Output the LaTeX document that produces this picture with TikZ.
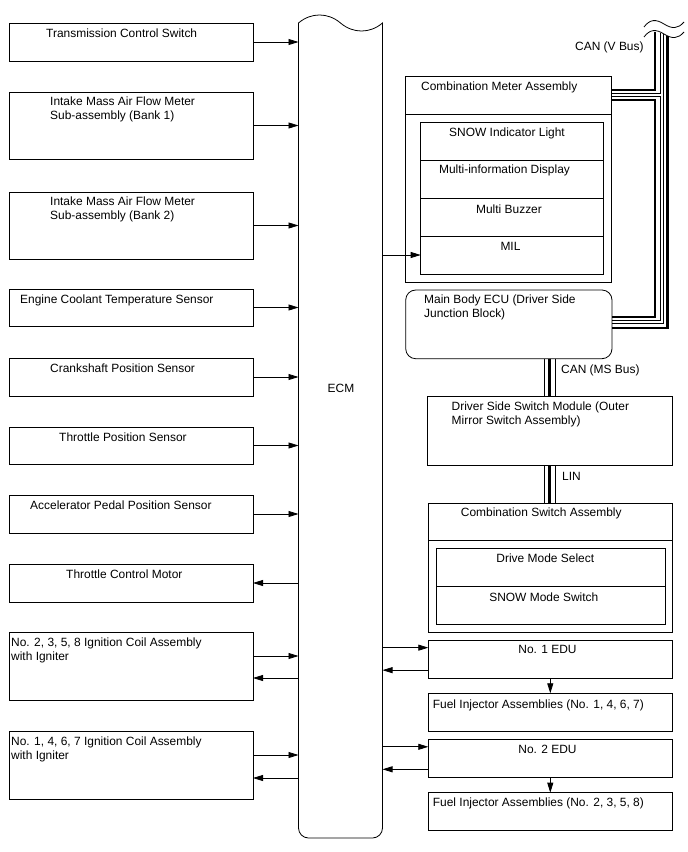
\documentclass[tikz,border=0pt]{standalone}
\usepackage{fontspec}
\setmainfont{Liberation Sans}
\usetikzlibrary{arrows.meta,calc}
\begin{document}
\begin{tikzpicture}[x=1pt,y=-1pt,
  font=\fontsize{11.95}{14}\selectfont,
  bx/.style n args={2}{draw, line width=0.8pt, inner sep=0, outer sep=0, anchor=north west, minimum width=#1pt, minimum height=#2pt},
  ln/.style={line width=0.8pt},
  arr/.style={line width=0.8pt, -{Triangle[length=10pt,width=6pt]}},
  thk/.style={line width=2.6pt},
  thn/.style={line width=0.9pt},
  tl/.style={anchor=base west, inner sep=0},
  tc/.style={anchor=base, inner sep=0}]
\useasboundingbox (0,0) rectangle (688,852);

% left boxes
\node[bx={244}{38}] (b1) at (9,23) {};
\node[bx={244}{67}] (b2) at (9,92) {};
\node[bx={244}{67}] (b3) at (9,192) {};
\node[bx={244}{37}] (b4) at (9,289) {};
\node[bx={244}{38}] (b5) at (9,358) {};
\node[bx={244}{37}] (b6) at (9,427) {};
\node[bx={244}{38}] (b7) at (9,495) {};
\node[bx={244}{38}] (b8) at (9,564) {};
\node[bx={244}{68}] (b9) at (9,632) {};
\node[bx={244}{68}] (b10) at (9,731) {};

\node[tl] (t1) at (46,37) {Transmission Control Switch};
\node[tl] (t2a) at (50,105.5) {Intake Mass Air Flow Meter};
\node[tl] (t2b) at (50,119.5) {Sub-assembly (Bank 1)};
\node[tl] (t3a) at (50,205.5) {Intake Mass Air Flow Meter};
\node[tl] (t3b) at (50,219.5) {Sub-assembly (Bank 2)};
\node[tl] (t4) at (20,303) {Engine Coolant Temperature Sensor};
\node[tl] (t5) at (50,372) {Crankshaft Position Sensor};
\node[tl] (t6) at (59,441) {Throttle Position Sensor};
\node[tl] (t7) at (30,509) {Accelerator Pedal Position Sensor};
\node[tl] (t8) at (66,578) {Throttle Control Motor};
\node[tl] (t9a) at (11,646) {No. 2, 3, 5, 8 Ignition Coil Assembly};
\node[tl] (t9b) at (11,660) {with Igniter};
\node[tl] (t10a) at (11,745) {No. 1, 4, 6, 7 Ignition Coil Assembly};
\node[tl] (t10b) at (11,759) {with Igniter};

% ECM
\node[inner sep=0, outer sep=0, anchor=north west, minimum width=84pt, minimum height=815pt] (ecm) at (298.5,23) {};
\draw[ln] (298.5,23) .. controls (311,12.3) and (328,12.3) .. (340.5,23)
  .. controls (353,33.7) and (370,33.7) .. (382.5,23)
  -- (382.5,828) .. controls (382.5,833.5) and (378,838) .. (372.5,838)
  -- (308.5,838) .. controls (303,838) and (298.5,833.5) .. (298.5,828) -- cycle;
\node[tc] (ecmt) at (341,392) {ECM};

% Combination meter
\node[bx={205.5}{206.5}] (cm) at (405.5,76) {};
\draw[ln] ([yshift=-38.3pt]cm.north west) -- ([yshift=-38.3pt]cm.north east);
\node[bx={182.6}{38}] (r1) at (420.7,122) {};
\node[bx={182.6}{38}] (r2) at (420.7,160) {};
\node[bx={182.6}{38}] (r3) at (420.7,198) {};
\node[bx={182.6}{38}] (r4) at (420.7,236) {};
\node[tl] (tcm) at (421,90) {Combination Meter Assembly};
\node[tc] (tr1) at (507,136.5) {SNOW Indicator Light};
\node[tc] (tr2) at (504.5,173.5) {Multi-information Display};
\node[tc] (tr3) at (509,213) {Multi Buzzer};
\node[tc] (tr4) at (510.5,250) {MIL};

% Main body ECU
\node[bx={206.3}{68.7}, rounded corners=10pt] (ecu) at (405.7,290) {};
\node[tl] (tecua) at (424,303.5) {Main Body ECU (Driver Side};
\node[tl] (tecub) at (424,317.5) {Junction Block)};

% Driver side switch module
\node[bx={244.8}{69}] (dss) at (427.5,396) {};
\node[tl] (tdssa) at (451.5,410) {Driver Side Switch Module (Outer};
\node[tl] (tdssb) at (451.5,424) {Mirror Switch Assembly)};

% Combination switch assembly
\node[bx={244}{128.7}] (csa) at (428.3,503.3) {};
\draw[ln] ([yshift=-36.7pt]csa.north west) -- ([yshift=-36.7pt]csa.north east);
\node[bx={229}{38.4}] (s1) at (436,548.3) {};
\node[bx={229}{37.6}] (s2) at (436,586.7) {};
\node[tl] (tcsa) at (460.7,516.7) {Combination Switch Assembly};
\node[tc] (ts1) at (545.3,562.7) {Drive Mode Select};
\node[tc] (ts2) at (543.8,601) {SNOW Mode Switch};

% EDUs and injectors
\node[bx={244}{38.3}] (edu1) at (428.3,640) {};
\node[bx={244}{37.7}] (fi1) at (428.3,693.3) {};
\node[bx={244}{38}] (edu2) at (428.3,739.3) {};
\node[bx={244}{38}] (fi2) at (428.3,792.7) {};
\node[tc] (tedu1) at (547.5,653.4) {No. 1 EDU};
\node[tl] (tfi1) at (432.7,708.4) {Fuel Injector Assemblies (No. 1, 4, 6, 7)};
\node[tc] (tedu2) at (547.5,753.4) {No. 2 EDU};
\node[tl] (tfi2) at (432.7,806.7) {Fuel Injector Assemblies (No. 2, 3, 5, 8)};

% bus labels
\node[tl] (tvbus) at (575,50) {CAN (V Bus)};
\node[tl] (tmsbus) at (561,373) {CAN (MS Bus)};
\node[tl] (tlin) at (562,480) {LIN};

% left arrows
\foreach \b in {b1,b2,b3,b4,b5,b6,b7}
  \draw[arr] (\b.east) -- (\b.east -| ecm.west);
\draw[arr] (b8.east -| ecm.west) -- (b8.east);
\draw[arr] ([yshift=10pt]b9.east) -- ([yshift=10pt]b9.east -| ecm.west);
\draw[arr] ([yshift=-12pt]b9.east -| ecm.west) -- ([yshift=-12pt]b9.east);
\draw[arr] ([yshift=10pt]b10.east) -- ([yshift=10pt]b10.east -| ecm.west);
\draw[arr] ([yshift=-13pt]b10.east -| ecm.west) -- ([yshift=-13pt]b10.east);

% right arrows
\draw[arr] (r4.west -| ecm.east) -- (r4.west);
\draw[arr] ([yshift=11.5pt]edu1.west -| ecm.east) -- ([yshift=11.5pt]edu1.west);
\draw[arr] ([yshift=-11pt]edu1.west) -- ([yshift=-11pt]edu1.west -| ecm.east);
\draw[arr] ([yshift=11.5pt]edu2.west -| ecm.east) -- ([yshift=11.5pt]edu2.west);
\draw[arr] ([yshift=-11pt]edu2.west) -- ([yshift=-11pt]edu2.west -| ecm.east);
\draw[arr] (edu1.south) -- (fi1.north);
\draw[arr] (edu2.south) -- (fi2.north);

% V bus
\coordinate (xa) at (655,32);
\coordinate (xb) at (660,33);
\coordinate (xc) at (663.5,34);
\coordinate (xd) at (667.5,36);
\draw[thk] ([yshift=-14pt]cm.north east) -| (xa);
\draw[thn] ([yshift=-17.5pt]cm.north east) -| (xb);
\draw[thn] ([yshift=-20.5pt]cm.north east) -- ([yshift=-20.5pt]cm.north east -| xb) -- ([yshift=-30pt]ecu.north east -| xb) -- ([yshift=-30pt]ecu.north east);
\draw[thk] ([yshift=-24pt]cm.north east) -- ([yshift=-24pt]cm.north east -| xa) -- ([yshift=-27pt]ecu.north east -| xa) -- ([yshift=-27pt]ecu.north east);
\draw[thn] ([yshift=-33.5pt]ecu.north east) -| (xc);
\draw[thk] ([yshift=-38pt]ecu.north east) -| (xd);
% break symbol
\draw[ln] (644,27) .. controls (650,19) and (656,19) .. (664,24) .. controls (672,29) and (678,29) .. (684,22);
\draw[ln] (644,37) .. controls (650,29) and (656,29) .. (664,34) .. controls (672,39) and (678,39) .. (684,32);

% MS bus
\coordinate (xm) at (549.5,0);
\draw[thk] (ecu.south -| xm) -- (dss.north -| xm);
\draw[thn] ([xshift=-5.5pt]ecu.south -| xm) -- ([xshift=-5.5pt]dss.north -| xm);
\draw[thn] ([xshift=5.5pt]ecu.south -| xm) -- ([xshift=5.5pt]dss.north -| xm);
% LIN
\draw[thk] (dss.south -| xm) -- (csa.north -| xm);
\draw[thn] ([xshift=-5.5pt]dss.south -| xm) -- ([xshift=-5.5pt]csa.north -| xm);
\draw[thn] ([xshift=5.5pt]dss.south -| xm) -- ([xshift=5.5pt]csa.north -| xm);
\end{tikzpicture}
\end{document}
